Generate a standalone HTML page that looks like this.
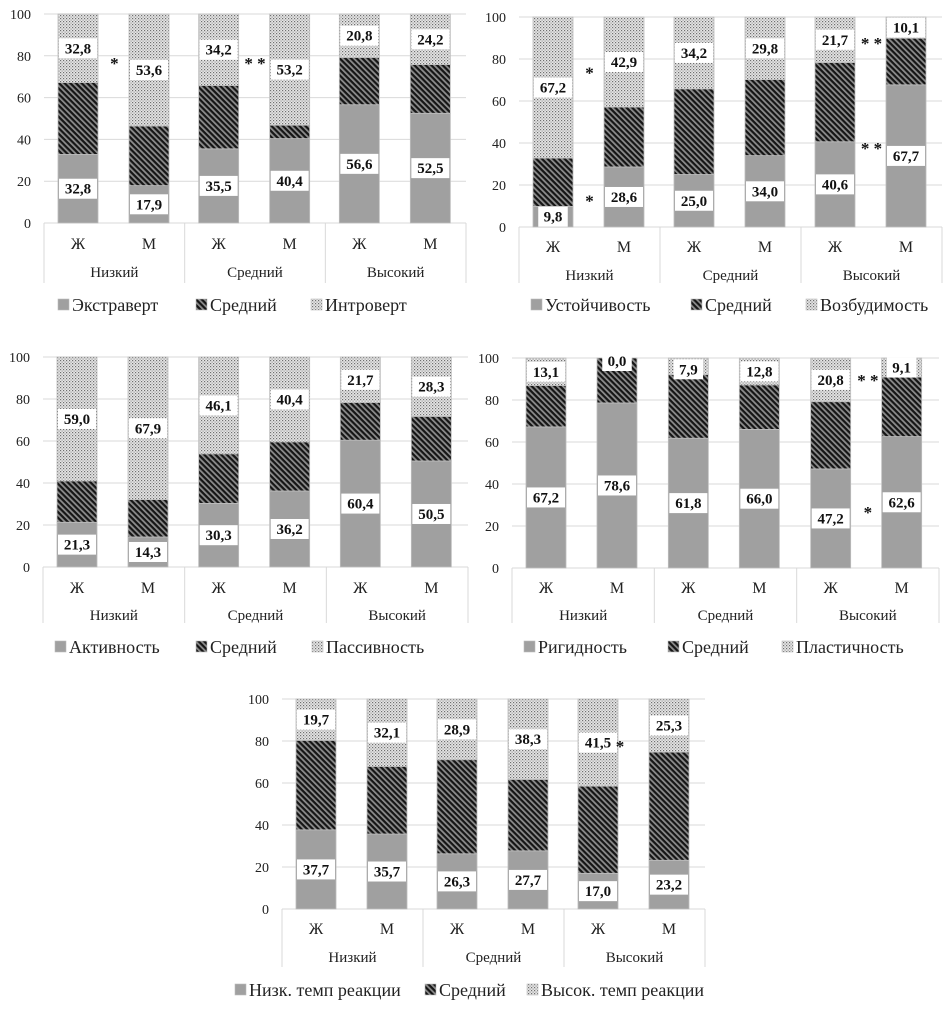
<!DOCTYPE html>
<html><head><meta charset="utf-8">
<style>
body{margin:0;background:#fff;}
#root{position:relative;width:952px;height:1013px;overflow:hidden;font-family:"Liberation Serif","DejaVu Serif",serif;}
svg{position:absolute;left:0;top:0;}
svg text{font-family:"Liberation Serif","DejaVu Serif",serif;}
</style></head>
<body>
<div id="root">
<svg id="svg" width="952" height="1013" font-family="'Liberation Serif', 'DejaVu Serif', serif">
<defs>
<pattern id="hatch" width="4" height="4" patternUnits="userSpaceOnUse" patternTransform="rotate(45)">
<rect width="4" height="4" fill="#8c8c8c"/><rect width="4" height="2.2" fill="#151515"/>
</pattern>
<pattern id="dots" width="3" height="3" patternUnits="userSpaceOnUse">
<rect width="3" height="3" fill="#e6e6e6"/><rect width="1.2" height="1.2" fill="#6f6f6f"/><rect x="1.5" y="1.5" width="1.2" height="1.2" fill="#9a9a9a"/>
</pattern>
</defs>
</svg>
</div>
<script>
const groups = ["Низкий","Средний","Высокий"];
const sexes = ["Ж","М"];
// chart 1
const c1Bottom = [32.8,17.9,35.5,40.4,56.6,52.5];
const c1Top = [32.8,53.6,34.2,53.2,20.8,24.2];
const c1Legend = ["Экстраверт","Средний","Интроверт"];
// chart 2
const c2Bottom = [9.8,28.6,25.0,34.0,40.6,67.7];
const c2Top = [67.2,42.9,34.2,29.8,21.7,10.1];
const c2Legend = ["Устойчивость","Средний","Возбудимость"];
// chart 3
const c3Bottom = [21.3,14.3,30.3,36.2,60.4,50.5];
const c3Top = [59.0,67.9,46.1,40.4,21.7,28.3];
const c3Legend = ["Активность","Средний","Пассивность"];
// chart 4
const c4Bottom = [67.2,78.6,61.8,66.0,47.2,62.6];
const c4Top = [13.1,0.0,7.9,12.8,20.8,9.1];
const c4Legend = ["Ригидность","Средний","Пластичность"];
// chart 5
const c5Bottom = [37.7,35.7,26.3,27.7,17.0,23.2];
const c5Top = [19.7,32.1,28.9,38.3,41.5,25.3];
const c5Legend = ["Низк. темп реакции","Средний","Высок. темп реакции"];
const yTicks = [0,20,40,60,80,100];
// significance marks: [group index, offset type, value, text]
const c1Stars = [[0,"mid",78,"*"],[1,"mid",78,"* *"]];
const c2Stars = [[0,"mid",75,"*"],[0,"mid",14,"*"],[2,"mid",89,"* *"],[2,"mid",39,"* *"]];
const c4Stars = [[2,"mid",91,"* *"],[2,"mid",28,"*"]];
const c5Stars = [[2,"right",79,"*"]];

const NS="http://www.w3.org/2000/svg";
const svg=document.getElementById('svg');
const FF="Liberation Serif, DejaVu Serif, serif";
function mk(tag,attrs,parent){const e=document.createElementNS(NS,tag);if(tag==='text')e.setAttribute('font-family',FF);for(const k in attrs)e.setAttribute(k,attrs[k]);(parent||svg).appendChild(e);return e;}

function chart(cfg,bottom,top,legend,stars,name){
  const g=mk('g',{});
  
  
  const y=v=>cfg.y0-(cfg.y0-cfg.y100)*v/100;
  const gw=(cfg.right-cfg.left)/3;
  yTicks.forEach(t=>{
    const l=mk('line',{x1:cfg.left,x2:cfg.right,y1:y(t),y2:y(t),stroke:'#d9d9d9','stroke-width':1},g);
    
    
    const tx=mk('text',{x:cfg.left-13,y:y(t)+5,'text-anchor':'end','font-size':14,fill:'#222'},g);
    tx.textContent=t;
    
    
  });
  for(let k=0;k<=3;k++){
    const x=cfg.left+gw*k;
    const l=mk('line',{x1:x,x2:x,y1:cfg.y0,y2:cfg.divBottom,stroke:'#d9d9d9'},g);
    
    
  }
  const bw=40;
  for(let i=0;i<6;i++){
    const gi=Math.floor(i/2), si=i%2;
    const cx=cfg.left+gw*gi+(si===0?34:105);
    const b=bottom[i], t=top[i], m=100-b-t;
    const segs=[[0,b,'#a0a0a0'],[b,b+m,'url(#hatch)'],[b+m,100,'url(#dots)']];
    segs.forEach((s,si2)=>{
      const r=mk('rect',{x:cx-bw/2,y:y(s[1]),width:bw,height:Math.max(0,y(s[0])-y(s[1])),fill:s[2],stroke:'#bdbdbd','stroke-width':0.8},g);
      
      
    });
    [[b/2,b],[b+m+t/2,t]].forEach(([pos,val],li)=>{
      let py=y(pos);
      if(val<8) py=y(100-val/2)+3;
      const txt=val.toFixed(1).replace('.',',');
      const wbox=txt.length*8.5+4;
      const rb=mk('rect',{x:cx-wbox/2,y:py-10,width:wbox,height:20,fill:'#fff'},g);
      
      
      const tx=mk('text',{x:cx,y:py+5,'text-anchor':'middle','font-size':15,'font-weight':'bold',fill:'#111'},g);
      tx.textContent=txt;
      
      
    });
    const sx=mk('text',{x:cx,y:cfg.sexY+6,'text-anchor':'middle','font-size':16,fill:'#222'},g);
    sx.textContent=sexes[si];
    
    
  }
  groups.forEach((gn,gi)=>{
    const tx=mk('text',{x:cfg.left+gw*gi+gw/2,y:cfg.grpY+5,'text-anchor':'middle','font-size':15,fill:'#222'},g);
    tx.textContent=gn;
    
    
  });
  stars.forEach(s=>{
    const gx=cfg.left+gw*s[0];
    const x=s[1]==='mid'?gx+gw/2:gx+34+22;
    const tx=mk('text',{x:x,y:y(s[2])+9,'text-anchor':'middle','font-size':17,'font-weight':'bold',fill:'#111'},g);
    tx.textContent=s[3];
    
    
  });
  const fills=['#a0a0a0','url(#hatch)','url(#dots)'];
  legend.forEach((lt,li)=>{
    const lx=cfg.legX[li];
    const r=mk('rect',{x:lx,y:cfg.legY-6,width:11,height:11,fill:fills[li],stroke:'#bdbdbd','stroke-width':0.6},g);
    
    
    const tx=mk('text',{x:lx+14,y:cfg.legY+6,'font-size':18,fill:'#222'},g);
    tx.textContent=lt;
    
    
  });
}
chart({left:44,right:466,y100:14,y0:223,divBottom:283,sexY:243,grpY:272,legY:305,legX:[58,196,311]},c1Bottom,c1Top,c1Legend,c1Stars,'chart-extraversion');
chart({left:519,right:942,y100:17,y0:227,divBottom:283,sexY:246,grpY:275,legY:305,legX:[531,691,806]},c2Bottom,c2Top,c2Legend,c2Stars,'chart-stability');
chart({left:43,right:468,y100:357,y0:567,divBottom:623,sexY:587,grpY:615,legY:647,legX:[55,196,312]},c3Bottom,c3Top,c3Legend,[],'chart-activity');
chart({left:512,right:939,y100:358,y0:568,divBottom:623,sexY:587,grpY:615,legY:647,legX:[524,668,782]},c4Bottom,c4Top,c4Legend,c4Stars,'chart-rigidity');
chart({left:282,right:705,y100:699,y0:909,divBottom:967,sexY:928,grpY:957,legY:990,legX:[235,425,527]},c5Bottom,c5Top,c5Legend,c5Stars,'chart-reaction-tempo');
</script>
</body></html>
